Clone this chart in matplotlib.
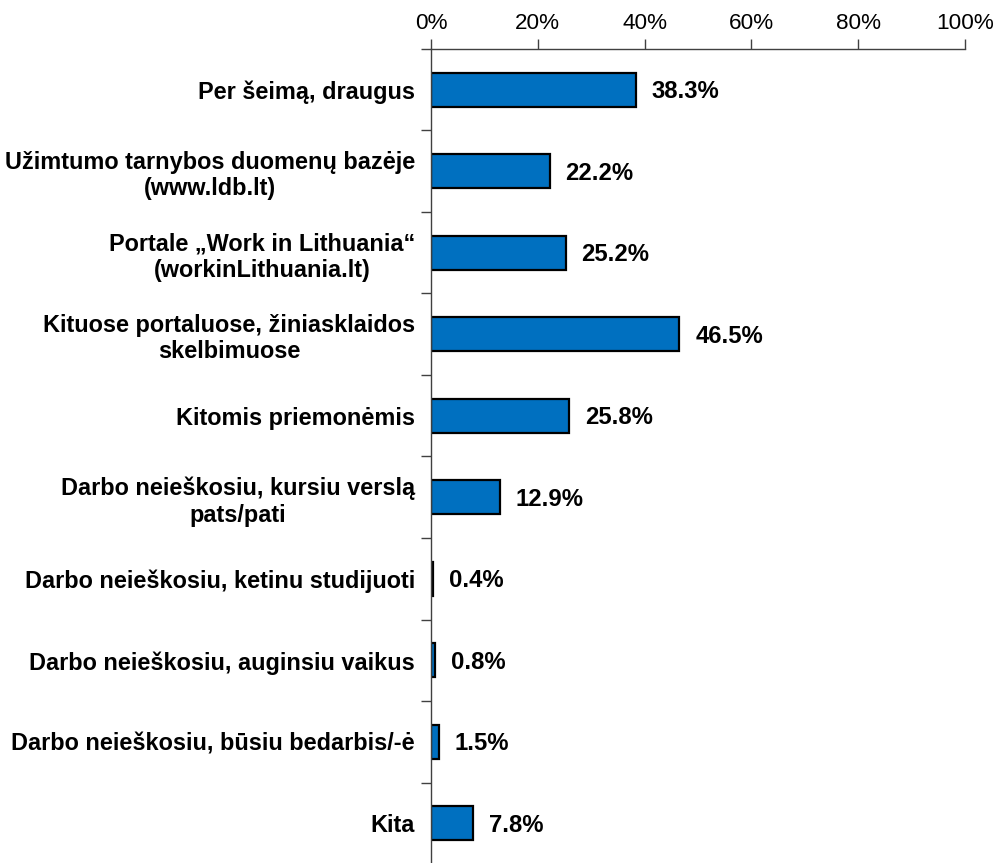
import matplotlib.pyplot as plt
from matplotlib.ticker import FixedLocator

plt.rcParams['font.family'] = ['Liberation Sans', 'DejaVu Sans']

# kategorijos (iš viršaus į apačią) ir reikšmės, %
categories = [
    'Per šeimą, draugus',
    'Užimtumo tarnybos duomenų bazėje\n(www.ldb.lt)',
    'Portale „Work in Lithuania“\n(workinLithuania.lt)',
    'Kituose portaluose, žiniasklaidos\nskelbimuose',
    'Kitomis priemonėmis',
    'Darbo neieškosiu, kursiu verslą\npats/pati',
    'Darbo neieškosiu, ketinu studijuoti',
    'Darbo neieškosiu, auginsiu vaikus',
    'Darbo neieškosiu, būsiu bedarbis/-ė',
    'Kita',
]
values = [38.3, 22.2, 25.2, 46.5, 25.8, 12.9, 0.4, 0.8, 1.5, 7.8]
xticks = [0, 20, 40, 60, 80, 100]

W, H = 995, 863
fig = plt.figure(figsize=(W / 100, H / 100), dpi=100)
ax = fig.add_axes([431 / W, (H - 864) / H, 534 / W, 815 / H])

n = len(categories)
ypos = list(range(n))
ax.barh(ypos, values, height=0.42, color='#0070C0', edgecolor='black', linewidth=1.6)

for y, v in zip(ypos, values):
    ax.annotate(f'{v:.1f}%', (v, y), xytext=(11.5, -1.5), textcoords='offset points',
                va='center', ha='left', fontsize=17.2, fontweight='bold')

ax.set_xlim(0, 100)
ax.set_ylim(n - 0.5, -0.5)
ax.xaxis.tick_top()
ax.set_xticks(xticks)
ax.set_xticklabels([f'{t}%' for t in xticks], fontsize=16.2)
ax.tick_params(axis='x', direction='out', length=7, width=1, color='#404040', pad=4)

ax.set_yticks(ypos)
ax.set_yticklabels(categories, fontsize=16.9, fontweight='bold')
for t in ax.get_yticklabels():
    t.set_multialignment('center')
ax.tick_params(axis='y', which='major', length=0, pad=11.5)
ax.yaxis.set_minor_locator(FixedLocator([i - 0.5 for i in range(n + 1)]))
ax.tick_params(axis='y', which='minor', direction='out', length=7, width=1, color='#404040')

for s in ['right', 'bottom']:
    ax.spines[s].set_visible(False)
for s in ['left', 'top']:
    ax.spines[s].set_color('#404040')
    ax.spines[s].set_linewidth(1)

fig.savefig('out.png', dpi=100)
